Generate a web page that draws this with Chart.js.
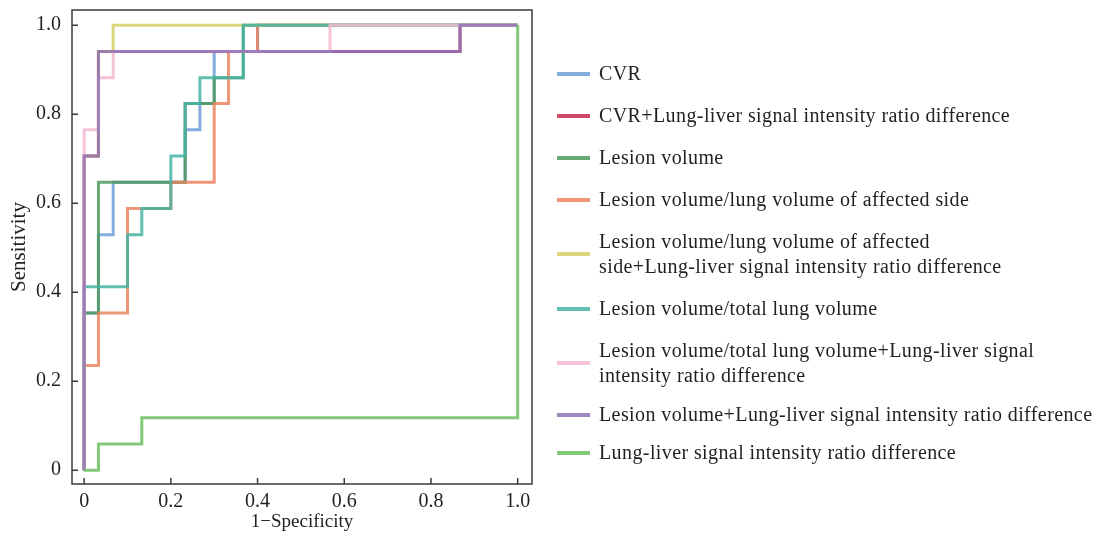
<!DOCTYPE html>
<html>
<head>
<meta charset="utf-8">
<script src="https://cdn.jsdelivr.net/npm/chart.js@4/dist/chart.umd.min.js"></script>
<style>
  body { margin: 0; background: #fff; }
  #wrap { position: relative; width: 1101px; height: 541px; }
  #legend {
    position: absolute; left: 557px; top: 61px;
    display: flex; flex-direction: column; gap: 17px;
    font-family: "Liberation Serif", serif; font-size: 20px; letter-spacing: 0.4px; color: #231f20;
  }
  .item { display: flex; align-items: center; line-height: 25px; }
  .item:nth-child(8) { margin-top: -3px; }
  .item:nth-child(9) { margin-top: -4px; }
  .swatch { width: 33px; height: 4px; margin-right: 9px; flex: none; opacity: 0.85; }
  .text { white-space: pre; }
</style>
</head>
<body>
<div id="wrap">
  <canvas id="roc"></canvas>
  <div id="legend"></div>
</div>
<script>
// series names (legend order), colours
const names = [
  "CVR",
  "CVR+Lung-liver signal intensity ratio difference",
  "Lesion volume",
  "Lesion volume/lung volume of affected side",
  "Lesion volume/lung volume of affected\nside+Lung-liver signal intensity ratio difference",
  "Lesion volume/total lung volume",
  "Lesion volume/total lung volume+Lung-liver signal\nintensity ratio difference",
  "Lesion volume+Lung-liver signal intensity ratio difference",
  "Lung-liver signal intensity ratio difference",
];
const colors = [
  "#6c9fd6", "#c9284f", "#4f9a5c", "#ea8460", "#d6cf66",
  "#47b3a3", "#f3b9d2", "#9172b6", "#6cc060",
];

// ROC corners: 1-specificity / sensitivity
const cvrX = [0, 0, 0.033, 0.033, 0.067, 0.067, 0.233, 0.233, 0.267, 0.267, 0.3, 0.3, 0.4, 0.4, 1];
const cvrY = [0, 0.353, 0.353, 0.529, 0.529, 0.647, 0.647, 0.765, 0.765, 0.824, 0.824, 0.941, 0.941, 1, 1];
const cvrLlX = [0, 0, 0.033, 0.033, 0.867, 0.867, 1];
const cvrLlY = [0, 0.706, 0.706, 0.941, 0.941, 1, 1];
const lvX = [0, 0, 0.033, 0.033, 0.233, 0.233, 0.3, 0.3, 0.367, 0.367, 1];
const lvY = [0, 0.353, 0.353, 0.647, 0.647, 0.824, 0.824, 0.882, 0.882, 1, 1];
const lvSideX = [0, 0, 0.033, 0.033, 0.1, 0.1, 0.2, 0.2, 0.3, 0.3, 0.333, 0.333, 0.4, 0.4, 1];
const lvSideY = [0, 0.235, 0.235, 0.353, 0.353, 0.588, 0.588, 0.647, 0.647, 0.824, 0.824, 0.941, 0.941, 1, 1];
const lvSideLlX = [0, 0, 0.033, 0.033, 0.067, 0.067, 1];
const lvSideLlY = [0, 0.706, 0.706, 0.941, 0.941, 1, 1];
const lvTotalX = [0, 0, 0.1, 0.1, 0.133, 0.133, 0.2, 0.2, 0.233, 0.233, 0.267, 0.267, 0.367, 0.367, 1];
const lvTotalY = [0, 0.412, 0.412, 0.529, 0.529, 0.588, 0.588, 0.706, 0.706, 0.824, 0.824, 0.882, 0.882, 1, 1];
const lvTotalLlX = [0, 0, 0.033, 0.033, 0.067, 0.067, 0.567, 0.567, 1];
const lvTotalLlY = [0, 0.765, 0.765, 0.882, 0.882, 0.941, 0.941, 1, 1];
const lvLlX = [0, 0, 0.033, 0.033, 0.867, 0.867, 1];
const lvLlY = [0, 0.706, 0.706, 0.941, 0.941, 1, 1];
const llX = [0, 0.033, 0.033, 0.133, 0.133, 1, 1];
const llY = [0, 0, 0.059, 0.059, 0.118, 0.118, 1];

const tickVals = [0, 0.2, 0.4, 0.6, 0.8, 1];
const tickLabels = ["0", "0.2", "0.4", "0.6", "0.8", "1.0"];

const curves = [
  [cvrX, cvrY], [cvrLlX, cvrLlY], [lvX, lvY], [lvSideX, lvSideY], [lvSideLlX, lvSideLlY],
  [lvTotalX, lvTotalY], [lvTotalLlX, lvTotalLlY], [lvLlX, lvLlY], [llX, llY],
];

const serif = "'Liberation Serif', serif";
const ink = "#231f20";

// box round the plot and short ticks pointing inwards
const frame = {
  id: "frame",
  afterDraw(chart) {
    const { ctx, chartArea: a, scales } = chart;
    ctx.save();
    ctx.strokeStyle = "#3a3a3a";
    ctx.lineWidth = 1.5;
    ctx.strokeRect(a.left, a.top, a.right - a.left, a.bottom - a.top);
    ctx.beginPath();
    for (const t of scales.x.ticks) {
      const px = scales.x.getPixelForValue(t.value);
      ctx.moveTo(px, a.bottom);
      ctx.lineTo(px, a.bottom - 6);
    }
    for (const t of scales.y.ticks) {
      const py = scales.y.getPixelForValue(t.value);
      ctx.moveTo(a.left, py);
      ctx.lineTo(a.left + 6, py);
    }
    ctx.stroke();
    ctx.restore();
  },
};

function noPad(s) {
  s.paddingTop = s.paddingBottom = s.paddingLeft = s.paddingRight = 0;
}

function axis(title, extra) {
  return Object.assign({
    type: "linear",
    grid: { display: false, drawTicks: false },
    border: { display: false },
    afterBuildTicks: (s) => { s.ticks = tickVals.map((v) => ({ value: v })); },
    ticks: {
      color: ink,
      font: { family: serif, size: 20 },
      callback: (v) => tickLabels[tickVals.indexOf(v)],
    },
    title: { display: true, text: title, color: ink, font: { family: serif, size: 19 } },
  }, extra);
}

const xScale = axis("1\u2212Specificity", { min: -0.028, max: 1.033 });
xScale.ticks.padding = 6;
xScale.title.padding = { top: 0, bottom: 8 };
xScale.afterFit = (s) => { s.height = 57; noPad(s); };

const yScale = axis("Sensitivity", { min: -0.031, max: 1.034 });
yScale.ticks.padding = 11;
yScale.title.font = { family: serif, size: 21 };
yScale.title.padding = { top: 7, bottom: 0 };
yScale.afterFit = (s) => { s.width = 72; noPad(s); };

new Chart(document.getElementById("roc"), {
  type: "line",
  data: {
    datasets: curves.map(([xs, ys], i) => ({
      label: names[i],
      data: xs.map((x, k) => ({ x, y: ys[k] })),
      borderColor: colors[i] + "d9",
      borderWidth: 3,
      pointRadius: 0,
      fill: false,
      tension: 0,
      order: curves.length - 1 - i, // later series drawn on top
    })),
  },
  options: {
    responsive: true,
    maintainAspectRatio: false,
    animation: false,
    layout: { padding: { top: 10, right: 569, left: 0, bottom: 0 } },
    plugins: { legend: { display: false }, tooltip: { enabled: false } },
    scales: { x: xScale, y: yScale },
  },
  plugins: [frame],
});

const legend = document.getElementById("legend");
names.forEach((n, i) => {
  const row = document.createElement("div");
  row.className = "item";
  const sw = document.createElement("span");
  sw.className = "swatch";
  sw.style.background = colors[i];
  const tx = document.createElement("span");
  tx.className = "text";
  tx.textContent = n;
  row.append(sw, tx);
  legend.append(row);
});
</script>
</body>
</html>
